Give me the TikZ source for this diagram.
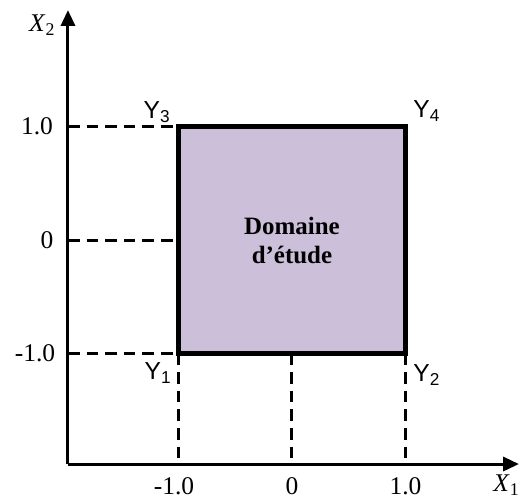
\documentclass[tikz,border=0pt]{standalone}
\usepackage{fontspec}
\setmainfont{Liberation Serif}
\newfontfamily\arialfont{Liberation Sans}
\usetikzlibrary{arrows.meta}
\definecolor{cdomain}{HTML}{CBBFD9}
\tikzset{
  every picture/.style={font=\fontsize{14.5}{17}\selectfont},
  axis/.style={-{Triangle[length=9pt, width=8pt]}, line width=1.7pt},
  guide/.style={line width=1.7pt, dash pattern=on 6.6pt off 4pt},
  studybox/.style={draw, fill=cdomain, line width=2.8pt, minimum size=4.54cm, inner sep=0pt, outer sep=0pt, align=center, font=\fontsize{14.2}{16.5}\selectfont\bfseries},
  corner/.style={font=\arialfont\fontsize{14}{16}\selectfont},
  tick/.style={inner sep=1pt},
}

\begin{document}
\begin{tikzpicture}[x=2.27cm, y=2.27cm]
  \useasboundingbox (-2.573,-2.291) rectangle (2.018,2.115);
  % axes
  \coordinate (O) at (-1.974,-1.974);
  \coordinate (xend) at (2.0,-1.974);
  \coordinate (yend) at (-1.974,2.026);
  \draw[axis] (O) -- (xend);
  \draw[axis] (O) -- (yend);
  \node[inner sep=0pt] (xlab) at (1.89,-2.16) {\textit{X}\textsubscript{1}};
  \node (ylab) at (-2.2,1.894) {\textit{X}\textsubscript{2}};
  % study domain
  \node[studybox] (dom) at (0,0) {Domaine\\d’étude};
  % guide lines to the axes
  \foreach \v/\n in {1/top, 0/mid, -1/bot} {
    \coordinate (l\n) at (-1.974,\v);
    \draw[guide] (l\n) -- (dom.west |- l\n);
  }
  \foreach \v/\n in {-1/left, 0/mid, 1/right} {
    \coordinate (b\n) at (\v,-1.974);
    \draw[guide] (dom.south -| b\n) -- (b\n);
  }
  % tick labels
  \node[tick] (t1) at (-2.247,1) {1.0};
  \node[tick] (t0) at (-2.159,0) {0};
  \node[tick] (tm1) at (-2.264,-1) {-1.0};
  \node[tick] (u1) at (-1.04,-2.167) {-1.0};
  \node[tick] (u0) at (0,-2.167) {0};
  \node[tick] (u2) at (1,-2.167) {1.0};
  % corner names
  \node[corner] (y3) at (-1.189,1.128) {Y\textsubscript{3}};
  \node[corner] (y4) at (1.189,1.137) {Y\textsubscript{4}};
  \node[corner] (y1) at (-1.18,-1.172) {Y\textsubscript{1}};
  \node[corner] (y2) at (1.189,-1.189) {Y\textsubscript{2}};
\end{tikzpicture}
\end{document}
